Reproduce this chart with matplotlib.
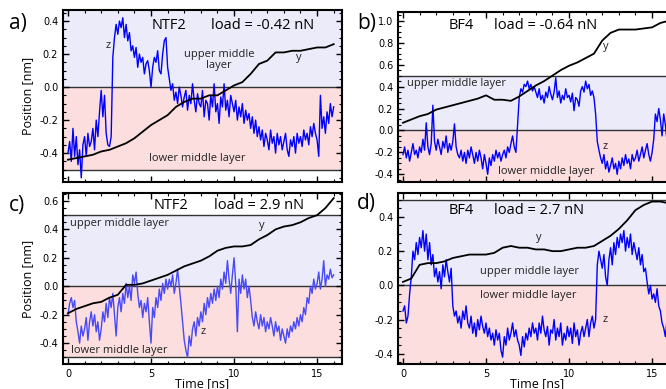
import matplotlib.pyplot as plt
import numpy as np
from matplotlib.ticker import MultipleLocator, FormatStrFormatter

# time axes: z traces every 0.1 ns, y traces every 0.5 ns
t_z = np.round(np.arange(0, 16.01, 0.1), 2)
t_y = np.arange(0, 16.01, 0.5)

z_a = [-0.40, -0.33, -0.45, -0.25, -0.42, -0.30, -0.47, -0.38, -0.55, -0.35,
       -0.30, -0.42, -0.28, -0.36, -0.33, -0.25, -0.38, -0.20, -0.30, -0.15,
       -0.02, -0.18, -0.05, -0.28, -0.35, -0.36, -0.30, 0.18, 0.30, 0.38,
       0.32, 0.40, 0.36, 0.42, 0.30, 0.38, 0.28, 0.33, 0.22, 0.25,
       0.18, 0.24, 0.12, 0.20, 0.15, 0.18, 0.08, 0.14, 0.16, 0.10,
       0.00, 0.12, 0.18, 0.15, 0.22, 0.10, 0.08, 0.20, 0.28, 0.30,
       0.12, 0.05, -0.02, 0.02, -0.08, -0.03, -0.10, 0.00, -0.05, -0.12,
       -0.06, -0.02, -0.14, -0.05, -0.10, 0.02, -0.08, -0.15, -0.04, -0.10,
       -0.12, -0.02, -0.18, -0.08, -0.10, -0.20, -0.05, -0.12, 0.02, -0.15,
       -0.10, -0.22, -0.06, -0.12, 0.02, -0.14, -0.08, -0.18, -0.05, -0.10,
       -0.15, -0.08, -0.20, -0.12, -0.18, -0.10, -0.22, -0.14, -0.20, -0.16,
       -0.25, -0.18, -0.28, -0.20, -0.30, -0.24, -0.32, -0.26, -0.36, -0.28,
       -0.32, -0.38, -0.26, -0.34, -0.30, -0.40, -0.28, -0.35, -0.30, -0.38,
       -0.33, -0.28, -0.38, -0.42, -0.32, -0.36, -0.30, -0.40, -0.28, -0.34,
       -0.30, -0.36, -0.26, -0.32, -0.28, -0.35, -0.24, -0.30, -0.22, -0.28,
       -0.32, -0.42, -0.05, -0.25, -0.18, -0.28, -0.15, -0.22, -0.10, -0.18,
       -0.12]
y_a = [-0.44, -0.43, -0.42, -0.41, -0.39, -0.38, -0.36, -0.34, -0.31, -0.27,
       -0.23, -0.20, -0.17, -0.12, -0.09, -0.07, -0.07, -0.05, -0.05, -0.02,
       0.01, 0.03, 0.08, 0.14, 0.16, 0.21, 0.21, 0.22, 0.22, 0.23, 0.24, 0.24, 0.26]

z_b = [-0.22, -0.15, -0.25, -0.18, -0.28, -0.20, -0.12, -0.22, -0.18, -0.25,
       -0.15, -0.20, -0.08, -0.18, 0.07, -0.15, -0.22, -0.12, 0.23, -0.10,
       -0.18, -0.08, -0.15, -0.22, -0.10, -0.16, -0.05, -0.20, -0.12, -0.18,
       -0.10, 0.06, -0.15, -0.22, -0.25, -0.18, -0.28, -0.20, -0.30, -0.18,
       -0.25, -0.15, -0.22, -0.30, -0.20, -0.28, -0.18, -0.25, -0.35, -0.22,
       -0.30, -0.40, -0.25, -0.32, -0.22, -0.28, -0.18, -0.25, -0.20, -0.28,
       -0.22, -0.18, -0.25, -0.15, -0.20, -0.12, -0.05, -0.15, -0.20, 0.05,
       0.30, 0.38, 0.35, 0.42, 0.40, 0.45, 0.38, 0.42, 0.36, 0.40,
       0.35, 0.30, 0.38, 0.28, 0.32, 0.25, 0.35, 0.30, 0.40, 0.33,
       0.28, 0.35, 0.48, 0.30, 0.36, 0.25, 0.32, 0.28, 0.38, 0.30,
       0.32, 0.26, 0.34, 0.18, 0.30, 0.28, 0.22, 0.36, 0.40, 0.35,
       0.45, 0.38, 0.42, 0.32, 0.36, 0.30, 0.15, -0.10, -0.18, -0.25,
       -0.30, -0.22, -0.35, -0.28, -0.38, -0.32, -0.25, -0.35, -0.30, -0.40,
       -0.28, -0.35, -0.25, -0.32, -0.22, -0.30, -0.26, -0.35, -0.22, -0.28,
       -0.25, -0.18, -0.28, -0.22, -0.15, -0.25, -0.18, -0.12, -0.22, -0.28,
       -0.20, -0.08, 0.15, 0.08, 0.20, 0.10, -0.05, 0.15, 0.05, -0.10,
       0.05]
y_b = [0.07, 0.10, 0.13, 0.15, 0.19, 0.21, 0.23, 0.25, 0.27, 0.29,
       0.32, 0.28, 0.28, 0.27, 0.31, 0.36, 0.41, 0.45, 0.50, 0.55,
       0.59, 0.62, 0.66, 0.70, 0.82, 0.89, 0.92, 0.92, 0.92, 0.93, 0.94, 0.98, 1.00]

z_c = [-0.20, -0.12, -0.08, -0.15, -0.10, -0.25, -0.32, -0.40, -0.28, -0.35,
       -0.30, -0.22, -0.38, -0.25, -0.18, -0.28, -0.20, -0.32, -0.25, -0.38,
       -0.30, -0.18, -0.25, -0.12, -0.22, -0.08, -0.15, -0.05, -0.20, -0.35,
       -0.15, -0.08, -0.18, -0.05, -0.12, 0.02, -0.08, 0.00, -0.10, 0.08,
       0.02, 0.10, -0.05, -0.15, -0.10, -0.22, -0.12, -0.18, -0.08, -0.25,
       -0.40, -0.15, -0.22, -0.08, -0.15, -0.02, -0.10, 0.02, -0.05, 0.05,
       -0.02, 0.05, 0.00, 0.08, -0.05, 0.02, 0.12, 0.00, -0.12, -0.25,
       -0.38, -0.45, -0.50, -0.35, -0.42, -0.30, -0.25, -0.35, -0.22, -0.28,
       -0.18, -0.25, -0.12, -0.20, -0.08, -0.15, -0.05, -0.12, -0.02, -0.10,
       0.00, -0.08, 0.05, -0.02, 0.10, 0.02, 0.18, 0.05, -0.05, 0.08,
       0.20, 0.02, -0.32, 0.05, -0.05, 0.08, -0.02, 0.05, -0.08, 0.00,
       -0.10, -0.22, -0.28, -0.18, -0.25, -0.30, -0.20, -0.28, -0.22, -0.32,
       -0.25, -0.30, -0.22, -0.28, -0.35, -0.25, -0.32, -0.28, -0.38, -0.30,
       -0.35, -0.40, -0.30, -0.36, -0.28, -0.32, -0.25, -0.30, -0.22, -0.28,
       -0.20, -0.25, -0.15, -0.20, -0.08, -0.12, 0.00, -0.05, 0.05, -0.02,
       0.02, 0.10, -0.02, 0.05, 0.18, 0.00, 0.08, 0.05, 0.12, 0.06,
       0.08]
y_c = [-0.19, -0.16, -0.14, -0.12, -0.11, -0.08, -0.06, 0.01, 0.01, 0.02,
       0.04, 0.06, 0.08, 0.11, 0.14, 0.16, 0.18, 0.21, 0.25, 0.27,
       0.28, 0.28, 0.29, 0.33, 0.36, 0.40, 0.42, 0.43, 0.45, 0.48, 0.50, 0.55, 0.62]

z_d = [-0.15, -0.12, -0.22, -0.18, -0.05, 0.05, 0.20, 0.15, 0.25, 0.18,
       0.28, 0.22, 0.32, 0.20, 0.30, 0.15, 0.25, 0.12, 0.18, 0.05,
       0.10, 0.02, 0.08, -0.02, 0.12, 0.05, 0.15, 0.08, 0.02, 0.10,
       -0.12, -0.18, -0.15, -0.22, -0.18, -0.25, -0.15, -0.20, -0.12, -0.22,
       -0.25, -0.18, -0.28, -0.22, -0.30, -0.20, -0.26, -0.18, -0.24, -0.28,
       -0.22, -0.30, -0.25, -0.32, -0.28, -0.35, -0.26, -0.32, -0.28, -0.38,
       -0.42, -0.30, -0.35, -0.25, -0.32, -0.28, -0.22, -0.30, -0.26, -0.32,
       -0.35, -0.41, -0.30, -0.36, -0.28, -0.32, -0.25, -0.30, -0.22, -0.28,
       -0.25, -0.32, -0.22, -0.28, -0.18, -0.26, -0.30, -0.24, -0.35, -0.26,
       -0.28, -0.20, -0.32, -0.25, -0.30, -0.22, -0.35, -0.28, -0.32, -0.24,
       -0.30, -0.25, -0.34, -0.22, -0.30, -0.26, -0.35, -0.28, -0.24, -0.30,
       -0.25, -0.20, -0.30, -0.22, -0.18, -0.25, -0.20, 0.12, 0.20, 0.15,
       0.10, 0.18, 0.05, 0.00, 0.15, 0.22, 0.12, 0.25, 0.18, 0.28,
       0.22, 0.30, 0.25, 0.32, 0.20, 0.28, 0.22, 0.30, 0.18, 0.25,
       0.20, 0.15, 0.22, 0.12, 0.18, 0.08, 0.10, 0.02, -0.05, 0.00,
       -0.08, -0.05, -0.10, -0.02, -0.12, -0.15, -0.22, -0.25, -0.30, -0.20,
       -0.28]
y_d = [0.02, 0.04, 0.12, 0.13, 0.13, 0.14, 0.16, 0.17, 0.18, 0.18,
       0.18, 0.19, 0.22, 0.23, 0.22, 0.22, 0.21, 0.21, 0.20, 0.20,
       0.21, 0.22, 0.22, 0.23, 0.26, 0.29, 0.33, 0.38, 0.44, 0.47, 0.49, 0.49, 0.48]

UPPER = '#ebebfa'
LOWER = '#fcdede'
FONT = ['Open Sans', 'DejaVu Sans']

fig = plt.figure(figsize=(6.66, 3.89), dpi=100)
W, H = 666, 389

def add_ax(left, top, bottom, width=279):
    return fig.add_axes([left / W, (H - bottom) / H, width / W, (bottom - top) / H])

panels = [
    dict(ax=add_ax(63, 10, 182), z=z_a, y=y_a, ylim=(-0.575, 0.467), zc='#0000ff',
         upper_top=None, lower_bot=-0.5, letter='a)', letter_xy=(9, 24), name='NTF2',
         load='load = -0.42 nN', name_xy=(6.1, 0.375), load_x=11.7,
         texts=[('z', 2.4, 0.25), ('upper middle\nlayer', 9.1, 0.165), ('y', 13.9, 0.18),
                ('lower middle layer', 7.8, -0.43)]),
    dict(ax=add_ax(398, 12, 182), z=z_b, y=y_b, ylim=(-0.47, 1.08), zc='#0000ff',
         upper_top=0.5, lower_bot=None, letter='b)', letter_xy=(357, 24), name='BF4',
         load='load = -0.64 nN', name_xy=(3.5, 0.96), load_x=8.6,
         texts=[('y', 12.2, 0.77), ('upper middle layer', 3.2, 0.43), ('z', 12.2, -0.15),
                ('lower middle layer', 8.6, -0.37)]),
    dict(ax=add_ax(63, 193, 364), z=z_c, y=y_c, ylim=(-0.547, 0.656), zc='#4a4af5',
         upper_top=0.5, lower_bot=-0.5, letter='c)', letter_xy=(9, 205), name='NTF2',
         load='load = 2.9 nN', name_xy=(6.2, 0.57), load_x=11.5,
         texts=[('upper middle layer', 3.1, 0.44), ('y', 11.7, 0.43), ('z', 8.15, -0.32),
                ('lower middle layer', 3.1, -0.45)]),
    dict(ax=add_ax(398, 193, 364), z=z_d, y=y_d, ylim=(-0.46, 0.54), zc='#0000ff',
         upper_top=0.5, lower_bot=None, letter='d)', letter_xy=(357, 204), name='BF4',
         load='load = 2.7 nN', name_xy=(3.5, 0.44), load_x=8.2,
         texts=[('y', 8.2, 0.28), ('upper middle layer', 7.6, 0.08), ('lower middle layer', 7.55, -0.06),
                ('z', 12.2, -0.2)]),
]

for i, p in enumerate(panels):
    ax = p['ax']
    lo, hi = p['ylim']
    ax.set_xlim(-0.3, 16.5)
    ax.set_ylim(lo, hi)
    up_top = p['upper_top'] if p['upper_top'] is not None else hi
    lo_bot = p['lower_bot'] if p['lower_bot'] is not None else lo
    ax.axhspan(0, up_top, color=UPPER, zorder=0, lw=0)
    ax.axhspan(lo_bot, 0, color=LOWER, zorder=0, lw=0)
    for yl in [0, p['upper_top'], p['lower_bot']]:
        if yl is not None:
            ax.axhline(yl, color='#333333', lw=1.0, zorder=1)
    ax.plot(t_z, p['z'], color=p['zc'], lw=1.0, zorder=2)
    ax.plot(t_y, p['y'], color='black', lw=1.3, zorder=3)

    ax.xaxis.set_major_locator(MultipleLocator(5))
    ax.xaxis.set_minor_locator(MultipleLocator(1))
    ax.yaxis.set_major_locator(MultipleLocator(0.2))
    ax.yaxis.set_minor_locator(MultipleLocator(0.05))
    ax.yaxis.set_major_formatter(FormatStrFormatter('%.1f'))
    ax.tick_params(which='both', direction='in', top=True, right=True, labelsize=7)
    ax.tick_params(which='major', length=4, width=1)
    ax.tick_params(which='minor', length=2, width=0.8)
    for s in ax.spines.values():
        s.set_linewidth(1.5)
    if i < 2:
        ax.tick_params(labelbottom=False)
    else:
        ax.set_xlabel('Time [ns]', fontsize=9, labelpad=-1, family=FONT)
    if i % 2 == 0:
        ax.set_ylabel('Position [nm]', fontsize=9, labelpad=4, family=FONT)

    ax.text(p['name_xy'][0], p['name_xy'][1], p['name'], fontsize=10.5, ha='center', va='center',
            zorder=5, family=FONT)
    ax.text(p['load_x'], p['name_xy'][1], p['load'], fontsize=10.5, ha='center', va='center',
            zorder=5, family=FONT)
    for s, x, y in p['texts']:
        ax.text(x, y, s, fontsize=8, ha='center', va='center', color='#222222',
                linespacing=1.0, zorder=5, family=FONT)

    lx, ly = p['letter_xy']
    fig.text(lx / W, 1 - ly / H, p['letter'], fontsize=15, ha='left', va='center', family=FONT)

fig.savefig('out.png', dpi=100)
